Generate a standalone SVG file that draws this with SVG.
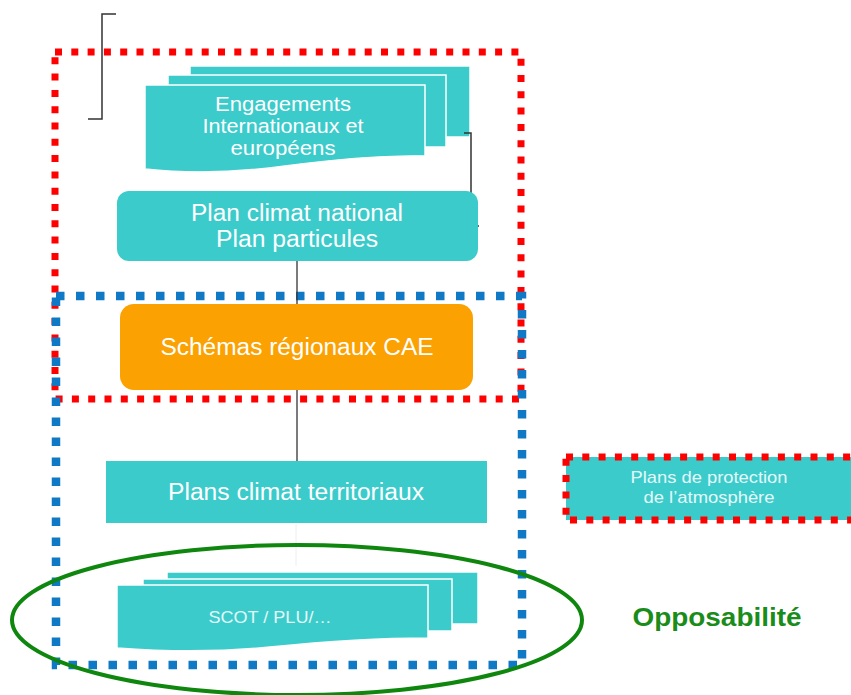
<svg xmlns="http://www.w3.org/2000/svg" width="851" height="695" viewBox="0 0 851 695">
<style>
.teal{fill:#3BCBCB}
.layer{fill:#3BCBCB;stroke:#ffffff;stroke-width:1.5}
.t{font-family:"Liberation Sans",Arial,sans-serif;fill:#ffffff;text-anchor:middle}
.thin{font-family:"Liberation Sans",Arial,sans-serif;fill:#e4f9f9;text-anchor:middle}
.red{fill:none;stroke:#FF0000;stroke-width:7;stroke-dasharray:7 9.3}
.blue{fill:none;stroke:#1079C6;stroke-width:8.5;stroke-dasharray:8.5 11.5}
.br{fill:none;stroke:#333333;stroke-width:1.5}
.conn{fill:none;stroke:#333333;stroke-width:1.3}
</style>
<rect width="851" height="695" fill="#ffffff"/>

<g id="engagements">
  <rect class="layer" x="190" y="66" width="280" height="71"/>
  <rect class="layer" x="168" y="75" width="278" height="72"/>
  <path class="layer" d="M145,85 H425 V156 C380,155 330,160 285,166 C240,172 190,174 145,169 Z"/>
  <text class="t" font-size="20.5" x="283" y="111" textLength="136" lengthAdjust="spacingAndGlyphs">Engagements</text>
  <text class="t" font-size="20.5" x="283" y="133" textLength="161" lengthAdjust="spacingAndGlyphs">Internationaux et</text>
  <text class="t" font-size="20.5" x="283" y="155" textLength="105" lengthAdjust="spacingAndGlyphs">européens</text>
</g>

<g id="brackets">
  <path class="br" d="M116,14 H102 V119 H88"/>
  <path class="br" d="M464,133 H471 V226 H479"/>
</g>

<g id="plan-national">
  <rect class="teal" x="117" y="191" width="361" height="70" rx="12"/>
  <text class="t" font-size="23.5" x="297" y="221" textLength="212" lengthAdjust="spacingAndGlyphs">Plan climat national</text>
  <text class="t" font-size="23.5" x="297" y="247" textLength="162" lengthAdjust="spacingAndGlyphs">Plan particules</text>
</g>

<g id="schemas-regionaux">
  <rect fill="#FBA102" x="120" y="304" width="353" height="86" rx="14"/>
  <text class="t" font-size="23.5" x="297" y="355" textLength="273" lengthAdjust="spacingAndGlyphs">Schémas régionaux CAE</text>
</g>

<g id="plans-territoriaux">
  <rect class="teal" x="106" y="461" width="381" height="62"/>
  <text class="t" font-size="23.5" x="296" y="500" textLength="256" lengthAdjust="spacingAndGlyphs">Plans climat territoriaux</text>
</g>

<g id="scot">
  <rect class="layer" x="167" y="572" width="311" height="52"/>
  <rect class="layer" x="143" y="579" width="309" height="52"/>
  <path class="layer" d="M117,585 H428 V638 C370,638 320,642 270,647 C220,652 170,652 117,648 Z"/>
  <text class="thin" font-size="17" x="270" y="623" textLength="123" lengthAdjust="spacingAndGlyphs">SCOT / PLU/…</text>
</g>

<g id="red-zone"><rect class="red" x="55" y="52" width="466" height="347"/></g>
<g id="blue-zone"><rect class="blue" x="56" y="296" width="466" height="369"/></g>

<g id="connectors">
  <line class="conn" x1="297" y1="261" x2="297" y2="304"/>
  <line class="conn" x1="297" y1="390" x2="297" y2="461"/>
  <line x1="296" y1="524" x2="296" y2="566" stroke="#eeeeee" stroke-width="1"/>
</g>

<g id="opposabilite-zone">
  <ellipse cx="297" cy="620" rx="285" ry="75" fill="none" stroke="#0F870F" stroke-width="4"/>
</g>

<g id="ppa">
  <rect class="teal" x="566" y="457" width="300" height="63"/>
  <rect class="red" x="566" y="457" width="300" height="63"/>
  <text class="thin" font-size="17" x="709" y="483" textLength="157" lengthAdjust="spacingAndGlyphs">Plans de protection</text>
  <text class="thin" font-size="17" x="709" y="503" textLength="131" lengthAdjust="spacingAndGlyphs">de l’atmosphère</text>
</g>

<g id="opposabilite-label">
  <text font-family="'Liberation Sans',Arial,sans-serif" font-weight="bold" font-size="25" fill="#1A8C1A" x="717" y="626" text-anchor="middle" textLength="169" lengthAdjust="spacingAndGlyphs">Opposabilité</text>
</g>
</svg>
